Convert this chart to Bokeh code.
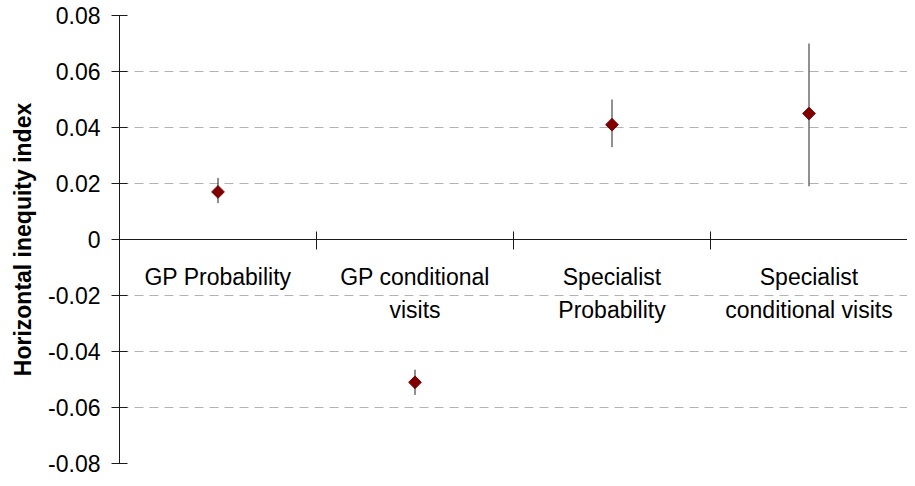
from bokeh.plotting import figure
from bokeh.models import Range1d, LinearAxis, FixedTicker, NumeralTickFormatter, ColumnDataSource
from bokeh.embed import file_html
from bokeh.resources import INLINE
import numpy as np

categories = ["GP Probability", "GP conditional\nvisits", "Specialist\nProbability", "Specialist\nconditional visits"]
hi_values = [0.017, -0.051, 0.041, 0.045]
ci_low = [0.013, -0.0555, 0.033, 0.019]
ci_high = [0.022, -0.0465, 0.050, 0.070]
y_ticks = [-0.08, -0.06, -0.04, -0.02, 0.0, 0.02, 0.04, 0.06, 0.08]

xpos = [i + 0.5 for i in range(len(categories))]
boundaries = list(range(len(categories) + 1))

src = ColumnDataSource(dict(x=xpos, y=hi_values, lo=ci_low, hi=ci_high))

FONT = "Liberation Sans"

p = figure(width=907, height=478, output_backend="svg", toolbar_location=None,
           x_range=Range1d(0, len(categories)), y_range=Range1d(-0.08, 0.08),
           x_axis_location=None, y_axis_location=None,
           min_border_left=119, min_border_right=0, min_border_top=15, min_border_bottom=15)
p.outline_line_color = None
p.background_fill_color = "white"
p.border_fill_color = "white"

# y axis
yax = LinearAxis(ticker=FixedTicker(ticks=y_ticks), formatter=NumeralTickFormatter(format="0.00"))
yax.major_label_overrides = {0: "0"}
yax.minor_tick_line_color = None
yax.major_tick_in = 8
yax.major_tick_out = 8
yax.axis_line_color = "#1a1a1a"
yax.major_tick_line_color = "#1a1a1a"
yax.major_label_text_font = FONT
yax.major_label_text_font_size = "23px"
yax.major_label_text_color = "black"
yax.major_label_standoff = 11
yax.axis_label = "Horizontal inequity index"
yax.axis_label_text_font = FONT
yax.axis_label_text_font_style = "bold"
yax.axis_label_text_font_size = "23px"
yax.axis_label_text_color = "black"
yax.axis_label_standoff = 9
p.add_layout(yax, "left")

# category axis crossing at y = 0: labels at centres, tick marks at boundaries
xax = LinearAxis(ticker=FixedTicker(ticks=xpos, minor_ticks=boundaries), fixed_location=0)
xax.major_label_overrides = {x: c for x, c in zip(xpos, categories)}
xax.major_tick_line_color = None
xax.major_tick_in = 0
xax.major_tick_out = 10
xax.minor_tick_in = 8
xax.minor_tick_out = 10
xax.minor_tick_line_color = "#1a1a1a"
xax.axis_line_color = "#1a1a1a"
xax.major_label_standoff = 14
xax.major_label_text_font = FONT
xax.major_label_text_font_size = "23px"
xax.major_label_text_color = "black"
xax.major_label_text_line_height = 1.3
p.add_layout(xax, "below")

p.xgrid.visible = False
p.ygrid.ticker = FixedTicker(ticks=y_ticks)
p.ygrid.grid_line_color = "#b3b3b3"
p.ygrid.grid_line_dash = "9 6"
p.ygrid.grid_line_width = 1

p.segment(x0="x", y0="lo", x1="x", y1="hi", source=src, line_color="#222222", line_width=1)
p.scatter(x="x", y="y", source=src, marker="square", angle=np.pi / 4, size=9,
          fill_color="#800000", line_color="#800000")

open("out.html", "w").write(file_html(p, INLINE))
